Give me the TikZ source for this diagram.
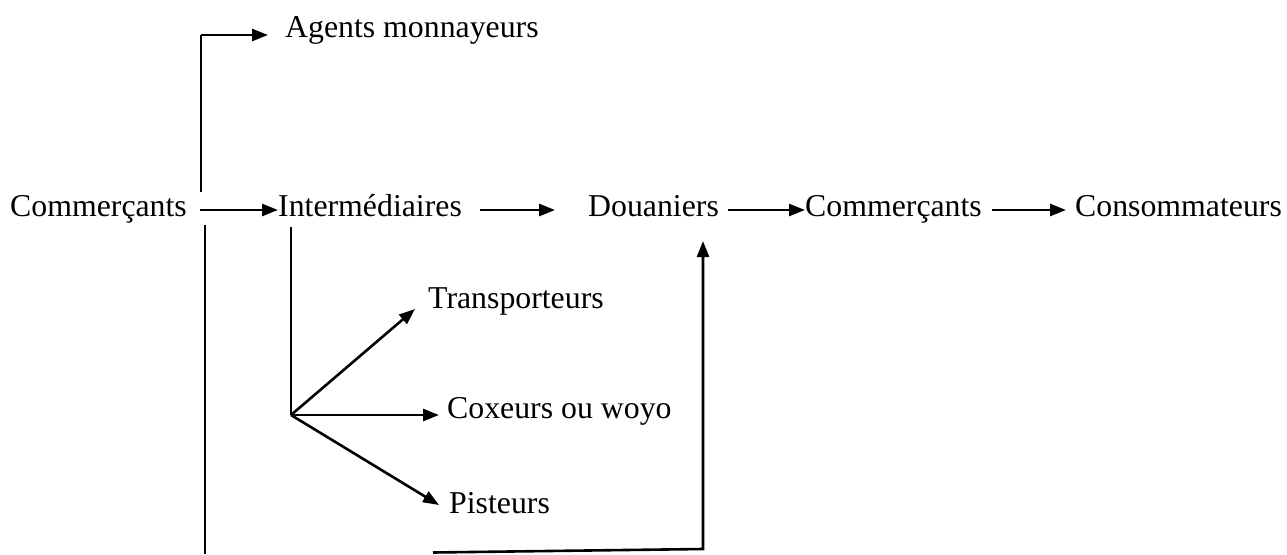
\documentclass[tikz,border=0pt]{standalone}
\usepackage{fontspec}
\setmainfont{Liberation Serif}
\usetikzlibrary{arrows.meta}
\begin{document}
\begin{tikzpicture}[x=1pt,y=-1pt,
  lbl/.style={inner sep=0pt,anchor=base west,font=\fontsize{31.8}{38}\selectfont},
  arr/.style={line width=2.6pt,-{Triangle[length=16pt,width=12pt]}},
  ln/.style={line width=2.6pt}]
\useasboundingbox (0,0) rectangle (1287,554);
% text nodes
\node[lbl] (com1) at (10,216) {Commerçants};
\node[lbl] (inter) at (278,216) {Intermédiaires};
\node[lbl] (doua) at (588,216) {Douaniers};
\node[lbl] (com2) at (805,216) {Commerçants};
\node[lbl] (cons) at (1075,216) {Consommateurs};
\node[lbl] (agents) at (285,37) {Agents monnayeurs};
\node[lbl] (trans) at (428,308) {Transporteurs};
\node[lbl] (cox) at (447,418) {Coxeurs ou woyo};
\node[lbl] (pist) at (449,513) {Pisteurs};
% coordinates
\coordinate (a1s) at (200,210);
\coordinate (a2s) at (480,210);
\coordinate (a2e) at (555,210);
\coordinate (a3s) at (728,210);
\coordinate (a4s) at (992,210);
\coordinate (a4e) at (1066,210);
\coordinate (upb) at (201,192);
\coordinate (upc) at (201,35);
\coordinate (agt) at (268,35);
\coordinate (ivs) at (291,227);
\coordinate (fan) at (291,415);
\coordinate (trt) at (415,309);
\coordinate (cxt) at (439,415);
\coordinate (pit) at (439,505);
\coordinate (lvs) at (205,225);
\coordinate (lve) at (205,554);
\coordinate (bs) at (433,552.5);
\coordinate (bc) at (703,549);
\coordinate (dt) at (703,241);
% main chain
\draw[arr] (a1s) -- (inter.west |- a1s);
\draw[arr] (a2s) -- (a2e);
\draw[arr] (a3s) -- (com2.west |- a3s);
\draw[arr] (a4s) -- (a4e);
% agents
\draw[ln] (upb) -- (upc);
\draw[arr] (upc) -- (agt);
% fan
\draw[ln] (ivs) -- (fan);
\draw[arr] (fan) -- (trt);
\draw[arr] (fan) -- (cxt);
\draw[arr] (fan) -- (pit);
% bottom path
\draw[ln] (lvs) -- (lve);
\draw[arr] (bs) -- (bc) -- (dt);
\end{tikzpicture}
\end{document}
